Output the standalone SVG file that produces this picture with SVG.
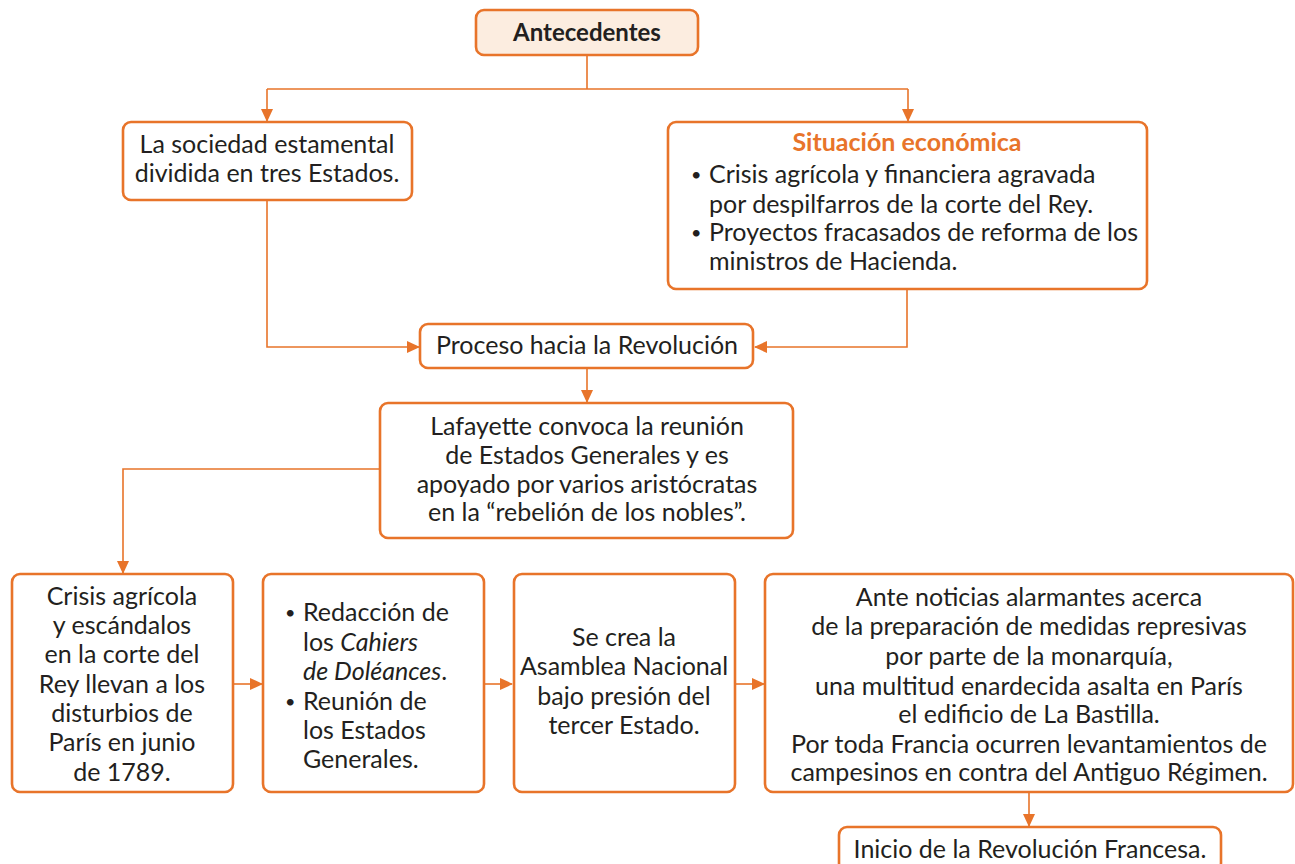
<svg xmlns="http://www.w3.org/2000/svg" width="1295" height="864" viewBox="0 0 1295 864">
<defs>
<marker id="arr" markerUnits="userSpaceOnUse" markerWidth="13" markerHeight="12" refX="12" refY="6" orient="auto">
<path d="M0,0 L13,6 L0,12 z" fill="#E8742A"/>
</marker>
<style>
.box{fill:#fff;stroke:#E8742A;stroke-width:2.6}
.head{fill:#FCEDE0;stroke:#E8742A;stroke-width:2.6}
.c{fill:none;stroke:#E8742A;stroke-width:1.6}
.a{fill:none;stroke:#E8742A;stroke-width:1.6;marker-end:url(#arr)}
text{font-family:Lato,"Noto Sans",sans-serif;font-size:25px;fill:#231f20}
.m{text-anchor:middle}
.b{font-weight:bold}
.o{fill:#E8742A}
.d{font-size:18px}
</style>
</defs>
<rect width="1295" height="864" fill="#fff"/>
<g id="connectors">
<path class="c" d="M587,55 V89 M267,89 H908"/>
<path class="a" d="M267,89 V121"/>
<path class="a" d="M908,89 V121"/>
<path class="a" d="M267,200 V347 H419"/>
<path class="a" d="M907,289 V347 H755"/>
<path class="a" d="M587,368 V402"/>
<path class="a" d="M380,469 H123 V573"/>
<path class="a" d="M233,684 H262"/>
<path class="a" d="M484,684 H512"/>
<path class="a" d="M735,684 H764"/>
<path class="a" d="M1029,792 V826"/>
</g>
<g id="antecedentes">
<rect class="head" x="476" y="10" width="222" height="45" rx="8"/>
<text class="m b" x="587" y="41" style="font-size:24px">Antecedentes</text>
</g>
<g id="sociedad">
<rect class="box" x="123" y="122" width="289" height="78" rx="8"/>
<text class="m" x="267" y="153">La sociedad estamental</text>
<text class="m" x="267" y="182">dividida en tres Estados.</text>
</g>
<g id="situacion">
<rect class="box" x="668" y="122" width="479" height="167" rx="8"/>
<text class="m b o" x="907" y="151">Situación económica</text>
<text class="d" x="691" y="181">•</text><text x="709" y="183">Crisis agrícola y financiera agravada</text>
<text x="709" y="213">por despilfarros de la corte del Rey.</text>
<text class="d" x="691" y="239">•</text><text x="709" y="241">Proyectos fracasados de reforma de los</text>
<text x="709" y="270">ministros de Hacienda.</text>
</g>
<g id="proceso">
<rect class="box" x="420" y="324" width="333" height="44" rx="8"/>
<text class="m" x="587" y="354">Proceso hacia la Revolución</text>
</g>
<g id="lafayette">
<rect class="box" x="380" y="403" width="413" height="135" rx="8"/>
<text class="m" x="587" y="435">Lafayette convoca la reunión</text>
<text class="m" x="587" y="464">de Estados Generales y es</text>
<text class="m" x="587" y="493">apoyado por varios aristócratas</text>
<text class="m" x="587" y="521">en la “rebelión de los nobles”.</text>
</g>
<g id="crisis">
<rect class="box" x="12" y="574" width="221" height="218" rx="8"/>
<text class="m" x="122" y="605">Crisis agrícola</text>
<text class="m" x="122" y="634">y escándalos</text>
<text class="m" x="122" y="663">en la corte del</text>
<text class="m" x="122" y="693">Rey llevan a los</text>
<text class="m" x="122" y="722">disturbios de</text>
<text class="m" x="122" y="751">París en junio</text>
<text class="m" x="122" y="781">de 1789.</text>
</g>
<g id="redaccion">
<rect class="box" x="263" y="574" width="221" height="218" rx="8"/>
<text class="d" x="285" y="619">•</text><text x="303" y="621">Redacción de</text>
<text x="303" y="651">los <tspan font-style="italic">Cahiers</tspan></text>
<text x="303" y="680"><tspan font-style="italic">de Doléances</tspan>.</text>
<text class="d" x="285" y="708">•</text><text x="303" y="710">Reunión de</text>
<text x="303" y="739">los Estados</text>
<text x="303" y="768">Generales.</text>
</g>
<g id="asamblea">
<rect class="box" x="514" y="574" width="221" height="218" rx="8"/>
<text class="m" x="624" y="646">Se crea la</text>
<text class="m" x="624" y="675">Asamblea Nacional</text>
<text class="m" x="624" y="705">bajo presión del</text>
<text class="m" x="624" y="734">tercer Estado.</text>
</g>
<g id="bastilla">
<rect class="box" x="765" y="574" width="528" height="218" rx="8"/>
<text class="m" x="1029" y="606">Ante noticias alarmantes acerca</text>
<text class="m" x="1029" y="635">de la preparación de medidas represivas</text>
<text class="m" x="1029" y="665">por parte de la monarquía,</text>
<text class="m" x="1029" y="695">una multitud enardecida asalta en París</text>
<text class="m" x="1029" y="723">el edificio de La Bastilla.</text>
<text class="m" x="1029" y="753">Por toda Francia ocurren levantamientos de</text>
<text class="m" x="1029" y="781">campesinos en contra del Antiguo Régimen.</text>
</g>
<g id="inicio">
<rect class="box" x="839" y="827" width="382" height="44" rx="8"/>
<text class="m" x="1030" y="858">Inicio de la Revolución Francesa.</text>
</g>
</svg>
